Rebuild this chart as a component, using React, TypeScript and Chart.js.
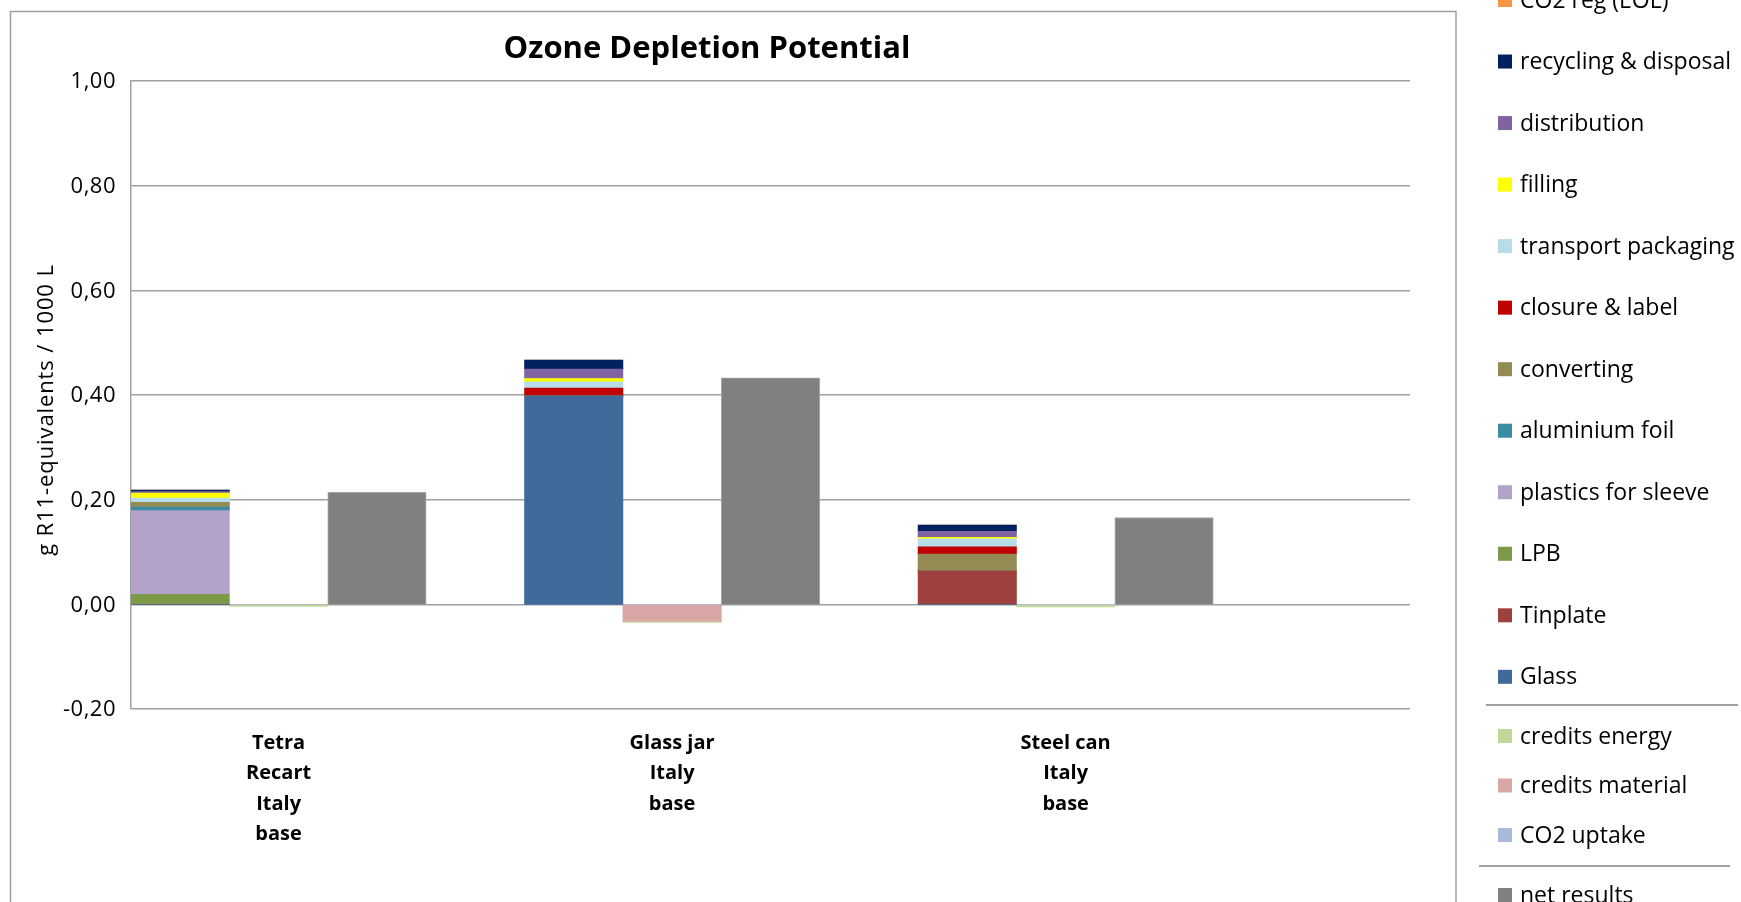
import { useEffect, useRef } from 'react';
import { Chart, registerables } from 'chart.js';

Chart.register(...registerables);

const FONT = '"Open Sans", "DejaVu Sans", sans-serif';

// Product systems on the category axis (one group of bars each)
const products: string[][] = [
  ['Tetra', 'Recart', 'Italy', 'base'],
  ['Glass jar', 'Italy', 'base'],
  ['Steel can', 'Italy', 'base'],
];

// Burdens per life-cycle step, g R11-equivalents / 1000 L, in product order
const co2RegEol = [0, 0, 0];
const recyclingAndDisposal = [0.003, 0.017, 0.012];
const distribution = [0.003, 0.018, 0.0115];
const filling = [0.0095, 0.0065, 0.003];
const transportPackaging = [0.008, 0.012, 0.015];
const closureAndLabel = [0, 0.015, 0.014];
const converting = [0.009, 0, 0.032];
const aluminiumFoil = [0.007, 0, 0];
const plasticsForSleeve = [0.16, 0, 0];
const lpb = [0.019, 0, 0];
const tinplate = [0, 0, 0.064];
const glass = [0, 0.398, 0];

// Credits (negative contributions)
const creditsEnergy = [-0.004, -0.0025, -0.005];
const creditsMaterial = [0, -0.032, 0];
const co2Uptake = [0, 0, 0];

// Net results
const netResults = [0.214, 0.433, 0.166];

// Value axis
const yMin = -0.2;
const yMax = 1.0;
const yStep = 0.2;

type Series = { label: string; color: string; values: number[] };

const burdenSeries: Series[] = [
  { label: 'CO2 reg (EOL)', color: '#f79646', values: co2RegEol },
  { label: 'recycling & disposal', color: '#002060', values: recyclingAndDisposal },
  { label: 'distribution', color: '#8064a2', values: distribution },
  { label: 'filling', color: '#ffff00', values: filling },
  { label: 'transport packaging', color: '#b7dee8', values: transportPackaging },
  { label: 'closure & label', color: '#c00000', values: closureAndLabel },
  { label: 'converting', color: '#948a54', values: converting },
  { label: 'aluminium foil', color: '#3a8ca3', values: aluminiumFoil },
  { label: 'plastics for sleeve', color: '#b3a2c7', values: plasticsForSleeve },
  { label: 'LPB', color: '#7c9a47', values: lpb },
  { label: 'Tinplate', color: '#9e413e', values: tinplate },
  { label: 'Glass', color: '#3f6a9a', values: glass },
];

const creditSeries: Series[] = [
  { label: 'credits energy', color: '#c4d79b', values: creditsEnergy },
  { label: 'credits material', color: '#d9a6a6', values: creditsMaterial },
  { label: 'CO2 uptake', color: '#a9bad9', values: co2Uptake },
];

const netSeries: Series = { label: 'net results', color: '#808080', values: netResults };

// Each product takes four slots: burdens, credits, net result, gap.
const SLOTS_PER_PRODUCT = 4;
const slotCount = products.length * SLOTS_PER_PRODUCT + 1;

function slotData(values: number[], offset: number): (number | null)[] {
  const out: (number | null)[] = new Array(slotCount).fill(null);
  values.forEach((v, p) => {
    out[p * SLOTS_PER_PRODUCT + offset] = v;
  });
  return out;
}

const slotLabels: (string | string[])[] = Array.from({ length: slotCount }, (_, i) =>
  i % SLOTS_PER_PRODUCT === 1 && Math.floor(i / SLOTS_PER_PRODUCT) < products.length
    ? products[Math.floor(i / SLOTS_PER_PRODUCT)]
    : ''
);

function formatTick(v: number): string {
  const s = Math.abs(v).toFixed(2).replace('.', ',');
  return v < -1e-9 ? '-' + s : s;
}

const decorations = {
  id: 'decorations',
  beforeDraw(chart: Chart) {
    const ctx = chart.ctx;
    ctx.save();
    ctx.fillStyle = '#ffffff';
    ctx.fillRect(0, 0, chart.width, chart.height);
    ctx.strokeStyle = '#a0a0a0';
    ctx.lineWidth = 1.5;
    ctx.strokeRect(10.5, 11.5, 1445.5, 1000);
    ctx.restore();
  },
  afterDraw(chart: Chart) {
    const ctx = chart.ctx as any;
    ctx.save();
    ctx.fillStyle = '#000000';

    // chart title
    ctx.font = `bold 31px ${FONT}`;
    ctx.textAlign = 'center';
    ctx.textBaseline = 'alphabetic';
    ctx.fillText('Ozone Depletion Potential', 707, 58);

    // value axis tick labels
    const ys: any = chart.scales.y;
    ctx.font = `22px ${FONT}`;
    ctx.letterSpacing = '0.5px';
    ctx.textAlign = 'right';
    ctx.textBaseline = 'middle';
    ys.ticks.forEach((t: any) => {
      ctx.fillText(formatTick(t.value), chart.chartArea.left - 15, ys.getPixelForValue(t.value) + 1);
    });

    // value axis title
    ctx.save();
    ctx.translate(53, 410);
    ctx.rotate(-Math.PI / 2);
    ctx.font = `22px ${FONT}`;
    ctx.letterSpacing = '0.9px';
    ctx.textAlign = 'center';
    ctx.textBaseline = 'alphabetic';
    ctx.fillText('g R11-equivalents / 1000 L', 0, 0);
    ctx.restore();

    // legend
    ctx.letterSpacing = '0px';
    ctx.font = `23px ${FONT}`;
    ctx.textAlign = 'left';
    ctx.textBaseline = 'middle';
    const item = (s: Series, cy: number) => {
      ctx.fillStyle = s.color;
      ctx.fillRect(1498, cy - 7, 14, 14);
      ctx.fillStyle = '#000000';
      ctx.fillText(s.label, 1520, cy + 1);
    };
    burdenSeries.forEach((s, i) => item(s, 0 + i * 61.53));
    creditSeries.forEach((s, i) => item(s, 736 + i * 49.5));
    item(netSeries, 895);

    ctx.strokeStyle = '#a0a0a0';
    ctx.lineWidth = 2;
    ctx.beginPath();
    ctx.moveTo(1486, 705);
    ctx.lineTo(1738, 705);
    ctx.moveTo(1479, 866);
    ctx.lineTo(1730, 866);
    ctx.stroke();

    ctx.restore();
  },
};

export default function App() {
  const canvasRef = useRef<HTMLCanvasElement | null>(null);

  useEffect(() => {
    const canvas = canvasRef.current;
    if (!canvas) return;

    const datasets: any[] = [
      ...[...burdenSeries].reverse().map((s) => ({
        label: s.label,
        data: slotData(s.values, 0),
        backgroundColor: s.color,
        borderWidth: 0,
      })),
      ...[...creditSeries].reverse().map((s) => ({
        label: s.label,
        data: slotData(s.values, 1),
        backgroundColor: s.color,
        borderWidth: 0,
      })),
      {
        label: netSeries.label,
        data: slotData(netSeries.values, 2),
        backgroundColor: netSeries.color,
        borderColor: '#a6a6a6',
        borderWidth: 1,
      },
    ];

    const chart = new Chart(canvas, {
      type: 'bar',
      data: { labels: slotLabels, datasets },
      options: {
        responsive: false,
        animation: false,
        devicePixelRatio: 1,
        layout: { padding: { left: 71, right: 331, top: 81, bottom: 43 } },
        datasets: { bar: { categoryPercentage: 1, barPercentage: 1 } },
        plugins: {
          legend: { display: false },
          title: { display: false },
          tooltip: { enabled: false },
        },
        scales: {
          x: {
            stacked: true,
            grid: { display: false, drawTicks: false },
            border: { display: false },
            ticks: {
              autoSkip: false,
              maxRotation: 0,
              minRotation: 0,
              padding: 19,
              color: '#000000',
              font: { family: FONT, size: 20, weight: 'bold', lineHeight: '30.5px' },
            },
            afterFit: (s: any) => {
              s.height = 150;
            },
          },
          y: {
            stacked: true,
            min: yMin,
            max: yMax,
            ticks: { stepSize: yStep, display: false },
            grid: { color: '#a0a0a0', lineWidth: 1.5, drawTicks: false },
            border: { display: true, color: '#a0a0a0', width: 1.5 },
            afterFit: (s: any) => {
              s.width = 60;
            },
          },
        },
      } as any,
      plugins: [decorations],
    });

    if ((document as any).fonts?.ready) {
      (document as any).fonts.ready.then(() => chart.update());
    }

    return () => chart.destroy();
  }, []);

  return (
    <div style={{ position: 'absolute', left: 0, top: 0, width: 1741, height: 902 }}>
      <canvas ref={canvasRef} width={1741} height={902} />
    </div>
  );
}
